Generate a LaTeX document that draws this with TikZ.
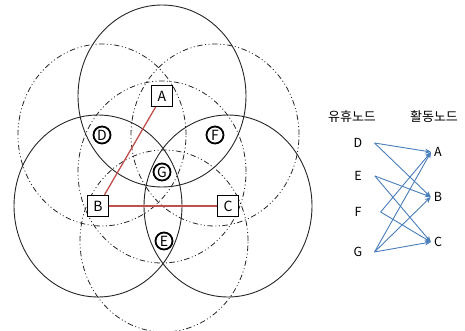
\documentclass[tikz,border=0pt]{standalone}
\usepackage{fontspec}
\setmainfont{Noto Sans CJK KR}
\usetikzlibrary{arrows.meta,backgrounds}
\definecolor{lnkred}{HTML}{C0504D}
\definecolor{flwblue}{HTML}{4A7EBB}
\tikzset{
  rng/.style={line width=0.9pt,black!85},
  slp/.style={line width=0.8pt,black!85,dash pattern=on 5.5pt off 2.5pt on 1pt off 2.5pt on 1pt off 2.5pt},
  act/.style={draw,line width=0.9pt,fill=white,minimum size=21pt,inner sep=0pt,font=\fontsize{14}{15}\selectfont},
  idl/.style={circle,draw,line width=1.8pt,fill=white,minimum size=17pt,inner sep=0pt,font=\fontsize{14}{15}\selectfont},
  lnk/.style={lnkred,line width=1.3pt},
  flw/.style={flwblue,line width=0.9pt,-{Stealth[length=6pt,width=5pt]}},
  lbl/.style={inner sep=3pt,font=\fontsize{12.5}{13}\selectfont},
  hdr/.style={inner sep=1pt,font=\fontsize{13}{14}\selectfont}
}

\begin{document}
\begin{tikzpicture}[x=1pt,y=-1pt]
\useasboundingbox (0,0) rectangle (465,331);
% active and idle nodes
\node[act] (A) at (162,96) {A};
\node[act] (B) at (98,206) {B};
\node[act] (C) at (228,206) {C};
\node[idl] (D) at (102,135) {D};
\node[idl] (F) at (215,135) {F};
\node[idl] (G) at (162,172) {G};
\node[idl] (E) at (164,241) {E};
\begin{scope}[on background layer]
\foreach \n in {A,B,C} \draw[rng] (\n) ellipse [x radius=84pt,y radius=91pt];
\foreach \n in {D,E,F,G} \draw[slp] (\n) ellipse [x radius=84pt,y radius=91pt];
\end{scope}
\draw[lnk] (A) -- (B); \draw[lnk] (B) -- (C);
% mapping table
\node[hdr] (hi) at (352,117) {유휴노드};
\node[hdr] (ha) at (434,117) {활동노드};
\node[lbl] (sd) at (358,143) {D};
\node[lbl] (se) at (358,176) {E};
\node[lbl] (sf) at (358,212) {F};
\node[lbl] (sg) at (358,252) {G};
\node[lbl] (ra) at (438,152) {A};
\node[lbl] (rb) at (438,197) {B};
\node[lbl] (rc) at (438,242) {C};
\coordinate (pd) at ([xshift=9pt]sd.east);
\coordinate (pe) at ([xshift=10pt]se.east);
\coordinate (pf) at ([xshift=16pt]sf.east);
\coordinate (pg) at ([xshift=9pt]sg.east);
\foreach \s/\t in {pd/ra,pd/rb,pe/rb,pe/rc,pf/ra,pf/rc,pg/ra,pg/rb,pg/rc}
  \draw[flw] (\s) -- (\t.west);
\end{tikzpicture}
\end{document}
